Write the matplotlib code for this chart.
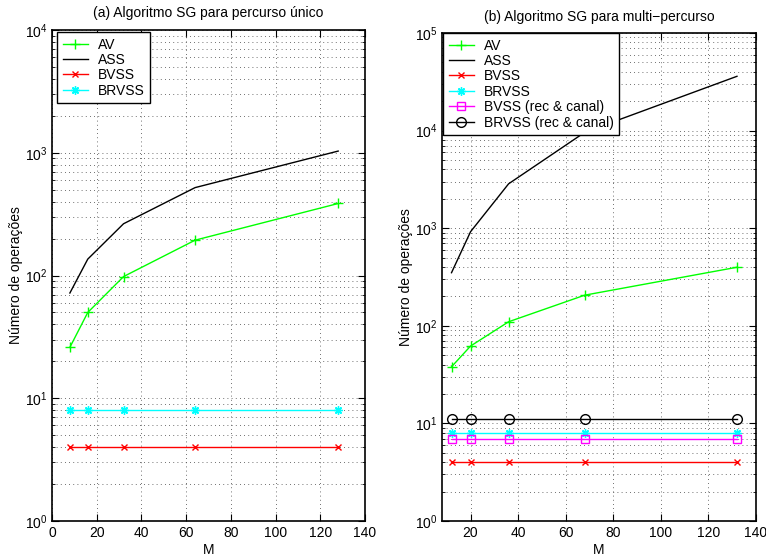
import matplotlib
matplotlib.use("Agg")
import matplotlib.pyplot as plt
from matplotlib.ticker import LogLocator, NullFormatter

plt.rcParams['font.family'] = ['Liberation Sans', 'DejaVu Sans']
plt.rcParams['mathtext.default'] = 'regular'
plt.rcParams['font.size'] = 10

# Panel (a): single path
M_a = [8, 16, 32, 64, 128]
av_a = [26, 50, 98, 194, 386]
ass_a = [72, 136, 264, 520, 1032]
bvss_a = [4, 4, 4, 4, 4]
brvss_a = [8, 8, 8, 8, 8]

# Panel (b): multi-path
M_b = [12, 20, 36, 68, 132]
av_b = [38, 62, 110, 206, 398]
ass_b = [350, 920, 2850, 9600, 36000]
bvss_b = [4, 4, 4, 4, 4]
brvss_b = [8, 8, 8, 8, 8]
bvss_rc_b = [7, 7, 7, 7, 7]
brvss_rc_b = [11, 11, 11, 11, 11]

title_a = "(a) Algoritmo SG para percurso único"
title_b = "(b) Algoritmo SG para multi\u2212percurso"
ylabel = "Número de operações"
xlabel = "M"

asterisk = (8, 2, 0)

fig = plt.figure(figsize=(7.66, 5.58), dpi=100)
W, H = 766, 558
ax1 = fig.add_axes([52 / W, 1 - 521 / H, 313 / W, (521 - 30) / H])
ax2 = fig.add_axes([442 / W, 1 - 521 / H, 314 / W, (521 - 33) / H])


def style(ax, xlim, ylim, xticks):
    ax.set_yscale('log')
    ax.set_xlim(*xlim)
    ax.set_ylim(*ylim)
    ax.set_xticks(xticks)
    ax.yaxis.set_major_locator(LogLocator(base=10, numticks=20))
    ax.yaxis.set_minor_locator(LogLocator(base=10, subs=range(2, 10), numticks=100))
    ax.yaxis.set_minor_formatter(NullFormatter())
    ax.tick_params(which='both', direction='in', top=True, right=True, labelsize=10)
    ax.tick_params(which='major', length=5, width=0.8)
    ax.tick_params(which='minor', length=2.5, width=0.6)
    ax.grid(True, which='major', axis='both', linestyle=(0, (1, 4)), color='0.25', linewidth=0.6)
    ax.grid(True, which='minor', axis='y', linestyle=(0, (1, 4)), color='0.25', linewidth=0.6)
    for s in ax.spines.values():
        s.set_linewidth(1.2)
    ax.set_xlabel(xlabel, labelpad=2)
    ax.set_ylabel(ylabel, labelpad=1)


ax1.plot(M_a, av_a, color=(0, 1, 0), marker='+', ms=6.5, lw=1, label='AV')
ax1.plot(M_a, ass_a, color='black', lw=1, label='ASS')
ax1.plot(M_a, bvss_a, color=(1, 0, 0), marker='x', ms=4.5, lw=1, label='BVSS')
ax1.plot(M_a, brvss_a, color=(0, 1, 1), marker=asterisk, ms=6, lw=1, label='BRVSS')
style(ax1, (0, 140), (1, 1e4), range(0, 141, 20))
ax1.set_title(title_a, fontsize=10, pad=9)

ax2.plot(M_b, av_b, color=(0, 1, 0), marker='+', ms=6.5, lw=1, label='AV')
ax2.plot(M_b, ass_b, color='black', lw=1, label='ASS')
ax2.plot(M_b, bvss_b, color=(1, 0, 0), marker='x', ms=4.5, lw=1, label='BVSS')
ax2.plot(M_b, brvss_b, color=(0, 1, 1), marker=asterisk, ms=6, lw=1, label='BRVSS')
ax2.plot(M_b, bvss_rc_b, color=(1, 0, 1), marker='s', ms=6, mfc='none', lw=1, label='BVSS (rec & canal)')
ax2.plot(M_b, brvss_rc_b, color='black', marker='o', ms=7, mfc='none', lw=1, label='BRVSS (rec & canal)')
style(ax2, (8, 140), (1, 1e5), range(20, 141, 20))
ax2.set_title(title_b, fontsize=10, pad=9)

# legend anchors (axes fraction) for upper-left corners
for ax, anchor in ((ax1, (5 / 313, 1 - 2 / 491)), (ax2, (1 / 314, 1.0))):
    leg = ax.legend(loc='upper left', bbox_to_anchor=anchor, fontsize=10, frameon=True,
                    fancybox=False, borderaxespad=0.0, handlelength=1.8, labelspacing=0.1,
                    borderpad=0.4, handletextpad=0.75, framealpha=1)
    leg.get_frame().set_edgecolor('black')
    leg.get_frame().set_linewidth(1.0)

fig.savefig('out.png', dpi=100)
